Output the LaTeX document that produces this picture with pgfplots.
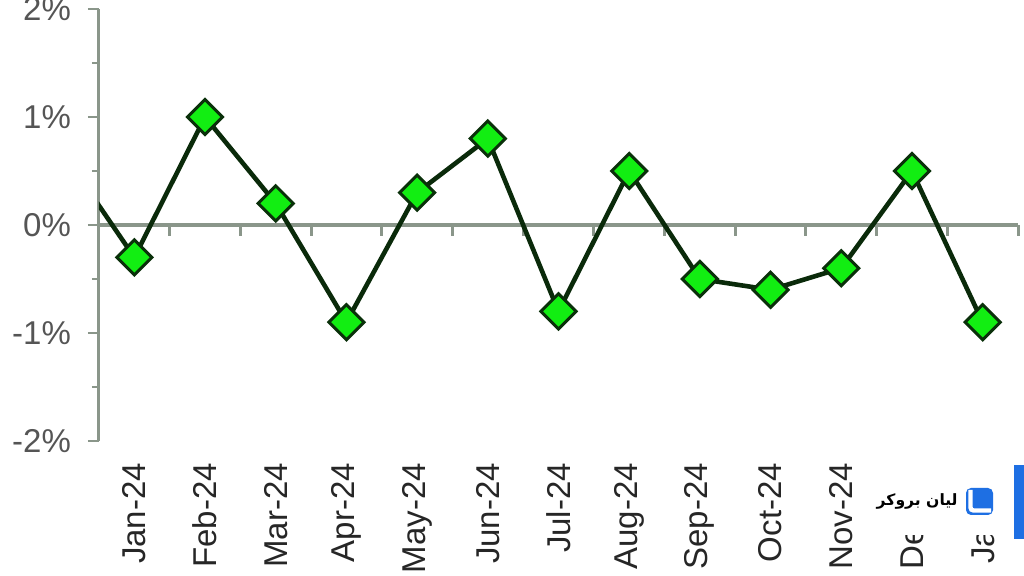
\documentclass[border=0pt]{standalone}
\usepackage{pgfplots}
\pgfplotsset{compat=1.18}
\usepackage{fontspec}
\setmainfont{Liberation Sans}
\newfontfamily\arabicfont[Script=Arabic]{DejaVu Sans}
\TeXXeTstate=1
\usetikzlibrary{calc}
\definecolor{axisgray}{HTML}{8A968A}
\definecolor{linegreen}{HTML}{0A2A0A}
\definecolor{markfill}{HTML}{12EE12}
\definecolor{markedge}{HTML}{0A300A}
\definecolor{logoblue}{HTML}{1E6FE3}
\definecolor{labelgray}{HTML}{555555}
\begin{document}
\begin{tikzpicture}
% zero line with category boundary ticks
\begin{axis}[
  scale only axis, width=459.5pt, height=216pt,
  xmin=0.5, xmax=13.5, ymin=-2, ymax=2,
  axis x line*=middle, axis y line=none,
  xtick={0.5,1.5,...,13.5}, xticklabels={},
  ytick=\empty,
  tick align=outside, major tick length=5.5pt,
  x axis line style={line width=2pt, color=axisgray},
  xtick style={line width=1.5pt, color=axisgray},
]
\end{axis}
% main axis
\begin{axis}[
  scale only axis, width=459.5pt, height=216pt,
  xmin=0.5, xmax=13.5, ymin=-2, ymax=2,
  axis y line*=left, axis x line*=bottom,
  x axis line style={draw=none},
  xtick={1,...,13},
  xticklabels={Jan-24,Feb-24,Mar-24,Apr-24,May-24,Jun-24,Jul-24,Aug-24,Sep-24,Oct-24,Nov-24,Dec-24,Jan-25},
  x tick style={draw=none},
  xticklabel style={yshift=-2pt, rotate=90, anchor=east, font=\fontsize{16.5}{19}\selectfont, text=black!85},
  ytick={-2,-1,0,1,2},
  yticklabels={-2\%,-1\%,0\%,1\%,2\%},
  minor ytick={-1.5,-0.5,0.5,1.5},
  yticklabel style={font=\fontsize{16.5}{19}\selectfont, text=labelgray, xshift=-5pt},
  tick align=outside, major tick length=5.5pt, minor tick length=3.5pt,
  y axis line style={line width=1.5pt, color=axisgray},
  y tick style={line width=1.3pt, color=axisgray},
  clip=true,
]
\addplot[color=linegreen, line width=2.3pt, no marks] coordinates {
 (0,0.66) (1,-0.3) (2,1.0) (3,0.2) (4,-0.9) (5,0.3) (6,0.8) (7,-0.8)
 (8,0.5) (9,-0.5) (10,-0.6) (11,-0.4) (12,0.5) (13,-0.9)};
\addplot[only marks, mark=square*, mark size=6.2pt,
  mark options={rotate=45, fill=markfill, draw=markedge, line width=1.5pt}] coordinates {
 (1,-0.3) (2,1.0) (3,0.2) (4,-0.9) (5,0.3) (6,0.8) (7,-0.8)
 (8,0.5) (9,-0.5) (10,-0.6) (11,-0.4) (12,0.5) (13,-0.9)};
\coordinate (sw) at (rel axis cs:0,0);
\end{axis}
\begin{scope}[shift={(sw)}, x=0.5pt, y=-0.5pt, shift={(-99,-441)}]
  % watermark
  \fill[white] (866,462) rectangle (1012,535);
  \fill[logoblue] (1014,465) rectangle (1024,539);
  \fill[logoblue, rounded corners=2.5pt] (966,488) rectangle (993,515);
  \draw[white, line width=2.2pt, rounded corners=1.5pt] (970.5,490) -- (970.5,510.5) -- (991,510.5);
  \node[anchor=east, inner sep=0pt, font=\arabicfont\bfseries\fontsize{7.8}{9}\selectfont] at (958,501) {\beginR لیان بروکر\endR};
  \pgfresetboundingbox
  \path[use as bounding box] (0,0) rectangle (1024,576);
\end{scope}
\end{tikzpicture}
\end{document}
